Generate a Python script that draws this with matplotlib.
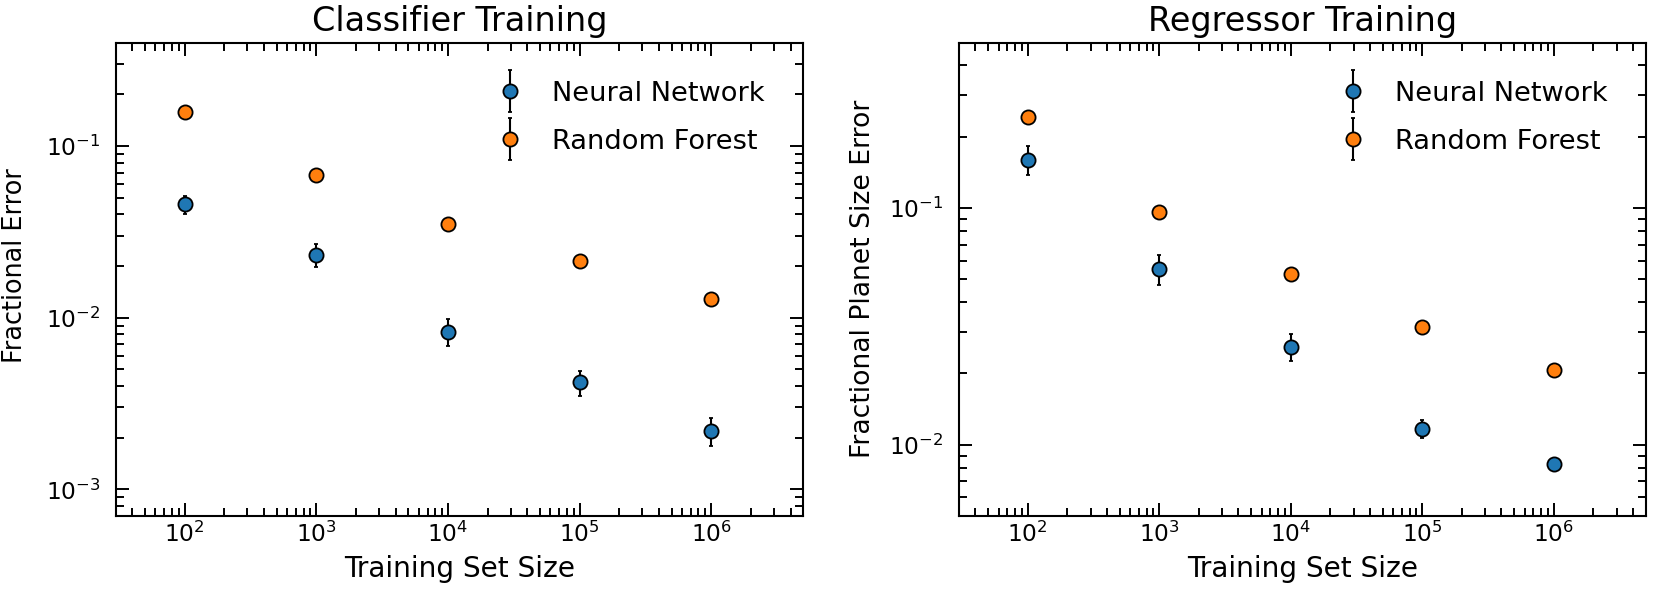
import numpy as np
import matplotlib
matplotlib.use('Agg')
import matplotlib.pyplot as plt
from matplotlib.container import ErrorbarContainer
from matplotlib.legend_handler import HandlerErrorbar
from matplotlib.ticker import NullFormatter

# values
train_size = [1e2, 1e3, 1e4, 1e5, 1e6]

clf_nn = [0.0456, 0.0232, 0.0083, 0.0042, 0.0022]
clf_nn_err = [0.0055, 0.0035, 0.0015, 0.0007, 0.0004]
clf_rf = [0.157, 0.068, 0.035, 0.0213, 0.0128]
clf_rf_err = [0, 0, 0, 0, 0]

reg_nn = [0.160, 0.0555, 0.026, 0.0117, 0.0083]
reg_nn_err = [0.022, 0.008, 0.0035, 0.001, 0.0005]
reg_rf = [0.243, 0.0966, 0.0528, 0.0313, 0.0207]
reg_rf_err = [0, 0, 0, 0, 0]

plt.rcParams['font.family'] = ['DejaVu Sans']
plt.rcParams['mathtext.fontset'] = 'dejavusans'

fig = plt.figure(figsize=(16.61, 5.93), dpi=100)
renderer = fig.canvas.get_renderer()


def size_for(s, target_px):
    # font size that makes string s about target_px wide
    t = fig.text(0, 0, s, fontsize=10)
    w = t.get_window_extent(renderer).width
    t.remove()
    return 10 * target_px / w


fs_title = size_for('Classifier Training', 296)
fs_label = size_for('Training Set Size', 232)
fs_ylabel1 = size_for('Fractional Error', 196)
fs_ylabel2 = size_for('Fractional Planet Size Error', 360)
fs_legend = size_for('Neural Network', 213)
fs_tick = size_for(r'$\mathdefault{10^{2}}$', 42)


def draw_panel(ax, nn, nn_err, rf, rf_err, title, ylabel, fs_ylabel, ylim, ylab_xy):
    ax.errorbar(train_size, nn, yerr=nn_err, fmt='o', color='#1f77b4', ms=10.2,
                mec='k', mew=1.3, ecolor='k', elinewidth=1.5, capsize=1.5,
                capthick=1.5, label='Neural Network')
    ax.errorbar(train_size, rf, yerr=rf_err, fmt='o', color='#ff7f0e', ms=10.2,
                mec='k', mew=1.3, ecolor='k', elinewidth=1.5, capsize=1.5,
                capthick=1.5, label='Random Forest')
    ax.set_xscale('log')
    ax.set_yscale('log')
    ax.set_xlim(30, 5e6)
    ax.set_ylim(*ylim)
    ax.yaxis.set_minor_formatter(NullFormatter())
    ax.xaxis.set_minor_formatter(NullFormatter())
    ax.tick_params(which='both', direction='in', top=True, right=True, width=1.4)
    ax.tick_params(which='major', length=9.5, labelsize=fs_tick)
    ax.tick_params(which='minor', length=5.5)
    ax.tick_params(axis='x', which='major', pad=4)
    ax.tick_params(axis='y', which='major', pad=11)
    for s in ax.spines.values():
        s.set_linewidth(1.5)
    ax.set_title(title, fontsize=fs_title, pad=8)
    ax.set_xlabel('Training Set Size', fontsize=fs_label)
    ax.set_ylabel(ylabel, fontsize=fs_ylabel)
    ax.yaxis.set_label_coords(*ylab_xy)
    ax.xaxis.set_label_coords(0.5, -0.082)
    ax.legend(loc='upper right', frameon=False, fontsize=fs_legend, borderaxespad=1.0,
              handletextpad=0.55, labelspacing=0.8,
              handler_map={ErrorbarContainer: HandlerErrorbar(yerr_size=0.76)})


ax1 = fig.add_axes([0.0697, 0.1298, 0.4139, 0.7985])
ax2 = fig.add_axes([0.5774, 0.1298, 0.4134, 0.7985])

draw_panel(ax1, clf_nn, clf_nn_err, clf_rf, clf_rf_err, 'Classifier Training',
           'Fractional Error', fs_ylabel1, (7e-4, 0.4), (-0.128, 0.53))
draw_panel(ax2, reg_nn, reg_nn_err, reg_rf, reg_rf_err, 'Regressor Training',
           'Fractional Planet Size Error', fs_ylabel2, (0.005, 0.5), (-0.121, 0.5))

fig.savefig('out.png', dpi=100)
